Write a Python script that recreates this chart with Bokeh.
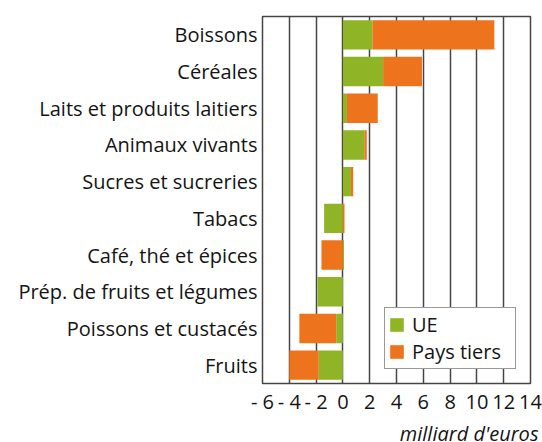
from bokeh.plotting import figure
from bokeh.models import (FactorRange, Range1d, FixedTicker, Legend, LegendItem,
                          ColumnDataSource, Title)
from bokeh.embed import file_html
from bokeh.resources import INLINE

categories = ["Boissons", "Céréales", "Laits et produits laitiers", "Animaux vivants",
              "Sucres et sucreries", "Tabacs", "Café, thé et épices",
              "Prép. de fruits et légumes", "Poissons et custacés", "Fruits"]
ue = [2.2, 3.0, 0.3, 1.6, 0.6, -1.4, 0.08, -1.9, -0.5, -1.8]
pays_tiers = [9.1, 2.9, 2.3, 0.18, 0.17, 0.12, -1.6, 0.0, -2.75, -2.2]
series_names = ["UE", "Pays tiers"]
colors = ["#8fb425", "#ee731d"]
tick_values = [-6, -4, -2, 0, 2, 4, 6, 8, 10, 12, 14]
tick_labels = ["- 6", "- 4", "- 2", "0", "2", "4", "6", "8", "10", "12", "14"]
axis_title = "milliard d'euros"

FONT = "Open Sans"
TXT = "#141414"
FS = "20px"

n = len(categories)
pos = [0.0] * n
neg = [0.0] * n
stacks = []
for s in (ue, pays_tiers):
    left, right = [], []
    for i, v in enumerate(s):
        if v >= 0:
            left.append(pos[i]); right.append(pos[i] + v); pos[i] += v
        else:
            right.append(neg[i]); left.append(neg[i] + v); neg[i] += v
    stacks.append((left, right))

p = figure(y_range=FactorRange(factors=categories[::-1], range_padding=0),
           x_range=Range1d(tick_values[0], tick_values[-1]),
           frame_width=268, frame_height=367,
           min_border_left=262, min_border_right=12, min_border_top=16,
           min_border_bottom=0,
           output_backend="svg", toolbar_location=None)

items = []
for (left, right), name, col in zip(stacks, series_names, colors):
    src = ColumnDataSource(dict(cat=categories, left=left, right=right))
    r = p.hbar(y="cat", left="left", right="right", height=0.8, source=src,
               fill_color=col, line_color=None)
    items.append(LegendItem(label=name, renderers=[r]))

p.xaxis.ticker = FixedTicker(ticks=tick_values)
p.xaxis.major_label_overrides = {v: t for v, t in zip(tick_values, tick_labels)}
for ax in (p.xaxis, p.yaxis):
    ax.axis_line_color = None
    ax.major_tick_line_color = None
    ax.minor_tick_line_color = None
    ax.major_tick_out = 0
    ax.major_tick_in = 0
    ax.minor_tick_out = 0
    ax.minor_tick_in = 0
    ax.major_label_text_font = FONT
    ax.major_label_text_font_size = FS
    ax.major_label_text_color = TXT
p.xaxis.major_label_standoff = 4
p.yaxis.major_label_standoff = 5

p.add_layout(Title(text=axis_title, align="right", text_font=FONT,
                   text_font_style="italic", text_font_size=FS,
                   text_line_height=0.8,
                   text_color=TXT, offset=-8, standoff=0), "below")

p.xgrid.ticker = FixedTicker(ticks=tick_values)
p.xgrid.grid_line_color = "#454545"
p.xgrid.grid_line_width = 1.5
p.ygrid.grid_line_color = None
p.outline_line_color = "#454545"
p.outline_line_width = 1.5

legend = Legend(items=items, location="bottom_right", margin=14,
                padding=3, spacing=0, glyph_width=17, glyph_height=17,
                label_height=20, label_width=100, label_standoff=7,
                label_text_font=FONT, label_text_font_size=FS,
                label_text_color=TXT, border_line_color="#333333",
                border_line_width=1.5, background_fill_alpha=1)
p.add_layout(legend)

open("out.html", "w").write(file_html(p, INLINE))
